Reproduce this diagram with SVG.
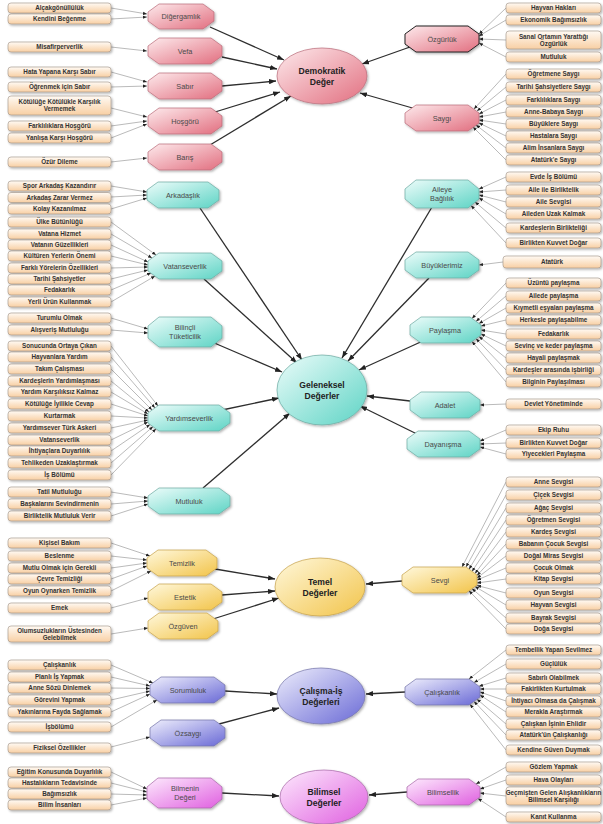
<svg xmlns="http://www.w3.org/2000/svg" width="603" height="824" viewBox="0 0 603 824">
<defs>
<linearGradient id="gBox" x1="0" y1="0" x2="0" y2="1"><stop offset="0" stop-color="#fffaf4"/><stop offset="1" stop-color="#f8cfa3"/></linearGradient>
<linearGradient id="gPink" x1="0" y1="0" x2="1" y2="1"><stop offset="0" stop-color="#fdeaec"/><stop offset="1" stop-color="#e26f80"/></linearGradient>
<linearGradient id="gTeal" x1="0" y1="0" x2="1" y2="1"><stop offset="0" stop-color="#ecfcfa"/><stop offset="1" stop-color="#5ed4c5"/></linearGradient>
<linearGradient id="gYel" x1="0" y1="0" x2="1" y2="1"><stop offset="0" stop-color="#fff8dc"/><stop offset="1" stop-color="#f2c44a"/></linearGradient>
<linearGradient id="gBlue" x1="0" y1="0" x2="1" y2="1"><stop offset="0" stop-color="#eeeefc"/><stop offset="1" stop-color="#6a6ad6"/></linearGradient>
<linearGradient id="gMag" x1="0" y1="0" x2="1" y2="1"><stop offset="0" stop-color="#fdeafd"/><stop offset="1" stop-color="#e060e0"/></linearGradient>
<filter id="sh" x="-10%" y="-10%" width="130%" height="145%"><feDropShadow dx="1.2" dy="1.4" stdDeviation="0.8" flood-color="#000" flood-opacity="0.3"/></filter>
<marker id="as" viewBox="0 0 6 6" refX="6" refY="3" markerWidth="4" markerHeight="4" markerUnits="userSpaceOnUse" orient="auto"><path d="M0,0.6 L6,3 L0,5.4z" fill="#222"/></marker>
<marker id="am" viewBox="0 0 8 6" refX="8" refY="3" markerWidth="7" markerHeight="5.5" markerUnits="userSpaceOnUse" orient="auto"><path d="M0,0 L8,3 L0,6z" fill="#222"/></marker>
<style>
.box rect{fill:url(#gBox);stroke:#9d9084;stroke-width:0.6;filter:url(#sh)}
.box text{font-family:"Liberation Sans",Arial,sans-serif;font-weight:bold;font-size:6.3px;fill:#333;text-anchor:middle}
.oct polygon,.ell ellipse{stroke-width:0.7;filter:url(#sh)}
.oct text{font-family:"Liberation Sans",Arial,sans-serif;font-size:7.3px;fill:#4a4a4a;text-anchor:middle}
.ell text{font-family:"Liberation Sans",Arial,sans-serif;font-weight:bold;font-size:8.6px;fill:#222;text-anchor:middle}
.pink polygon,.pink ellipse{fill:url(#gPink);stroke:#b96a78}
.teal polygon,.teal ellipse{fill:url(#gTeal);stroke:#6aa9a0}
.yel polygon,.yel ellipse{fill:url(#gYel);stroke:#c5a048}
.blue polygon,.blue ellipse{fill:url(#gBlue);stroke:#7272a8}
.mag polygon,.mag ellipse{fill:url(#gMag);stroke:#a665a6}
#o-ozgurluk polygon{stroke:#222;stroke-width:1}
.t{stroke:#8c8c8c;stroke-width:0.6;fill:none;marker-end:url(#as)}
.m{stroke:#2e2e2e;stroke-width:1.3;fill:none;marker-end:url(#am)}
</style>
</defs>
<rect width="603" height="824" fill="#fff"/>

<g id="connectors">
<path class="m" d="M210,27 L284,60"/>
<path class="m" d="M222,57 L277,69"/>
<path class="m" d="M222,86 L276,81"/>
<path class="m" d="M215,112 L280,92"/>
<path class="m" d="M205,148 L291,96"/>
<path class="m" d="M410,47 L362,64"/>
<path class="m" d="M416,109 L360,93"/>
<path class="m" d="M200,208 L302,360"/>
<path class="m" d="M204,279 L297,363"/>
<path class="m" d="M212,342 L282,372"/>
<path class="m" d="M222,410 L279,398"/>
<path class="m" d="M203,488 L290,413"/>
<path class="m" d="M432,207 L342,358"/>
<path class="m" d="M429,278 L348,361"/>
<path class="m" d="M425,340 L359,370"/>
<path class="m" d="M410,401 L367,396"/>
<path class="m" d="M421,436 L360,406"/>
<path class="m" d="M215,569 L275,579"/>
<path class="m" d="M222,595 L275,591"/>
<path class="m" d="M213,619 L279,598"/>
<path class="m" d="M402,581 L366,584"/>
<path class="m" d="M225,691 L277,694"/>
<path class="m" d="M219,724 L279,708"/>
<path class="m" d="M405,692 L366,694"/>
<path class="m" d="M222,793 L279,796"/>
<path class="m" d="M407,792 L369,795"/>

<path class="t" d="M111,8 L147,14"/>
<path class="t" d="M111,19 L147,17"/>
<path class="t" d="M111,47 L147,51"/>
<path class="t" d="M111,72 L147,82"/>
<path class="t" d="M111,87 L147,86"/>
<path class="t" d="M111,108 L147,117"/>
<path class="t" d="M111,126 L147,121"/>
<path class="t" d="M111,138 L147,124"/>
<path class="t" d="M111,162 L147,158"/>
<path class="t" d="M506,8 L479,34"/>
<path class="t" d="M506,20 L479,36"/>
<path class="t" d="M506,40 L479,39"/>
<path class="t" d="M506,57 L479,43"/>
<path class="t" d="M506,74 L474,109"/>
<path class="t" d="M506,87 L477,111"/>
<path class="t" d="M506,100 L479,114"/>
<path class="t" d="M506,112 L479,117"/>
<path class="t" d="M506,124 L479,120"/>
<path class="t" d="M506,136 L479,123"/>
<path class="t" d="M506,148 L476,125"/>
<path class="t" d="M506,160 L473,127"/>

<path class="t" d="M111,186 L147,192"/>
<path class="t" d="M111,197 L147,195"/>
<path class="t" d="M111,209 L147,198"/>
<path class="t" d="M111,222 L156,255"/>
<path class="t" d="M111,234 L152,258"/>
<path class="t" d="M111,245 L148,262"/>
<path class="t" d="M111,256 L148,265"/>
<path class="t" d="M111,268 L148,267"/>
<path class="t" d="M111,279 L148,270"/>
<path class="t" d="M111,290 L151,273"/>
<path class="t" d="M111,302 L155,276"/>
<path class="t" d="M111,318 L148,329"/>
<path class="t" d="M111,330 L148,333"/>
<path class="t" d="M111,346 L158,406"/>
<path class="t" d="M111,357 L155,408"/>
<path class="t" d="M111,369 L152,410"/>
<path class="t" d="M111,381 L149,412"/>
<path class="t" d="M111,392 L148,414"/>
<path class="t" d="M111,404 L148,416"/>
<path class="t" d="M111,416 L148,418"/>
<path class="t" d="M111,428 L148,420"/>
<path class="t" d="M111,440 L148,422"/>
<path class="t" d="M111,451 L150,424.5"/>
<path class="t" d="M111,463 L153,426.6"/>
<path class="t" d="M111,475 L156,428.8"/>
<path class="t" d="M111,492 L148,498"/>
<path class="t" d="M111,504 L148,501"/>
<path class="t" d="M111,516 L148,504"/>

<path class="t" d="M506,177 L479,189"/>
<path class="t" d="M506,190 L479,192"/>
<path class="t" d="M506,202 L479,195"/>
<path class="t" d="M506,214 L479,198"/>
<path class="t" d="M506,228 L475,202"/>
<path class="t" d="M506,243 L471,205.5"/>
<path class="t" d="M503,262 L479,265"/>
<path class="t" d="M506,283 L472,318.5"/>
<path class="t" d="M506,296 L476,321.4"/>
<path class="t" d="M506,308 L479,323.5"/>
<path class="t" d="M506,320 L481,326"/>
<path class="t" d="M506,334 L481,330"/>
<path class="t" d="M506,346 L481,334"/>
<path class="t" d="M506,358 L479,336.5"/>
<path class="t" d="M506,370 L476,338.6"/>
<path class="t" d="M506,382 L472,341.5"/>
<path class="t" d="M506,404 L480,405"/>
<path class="t" d="M506,430 L480,441"/>
<path class="t" d="M506,443 L480,444"/>
<path class="t" d="M506,454 L480,447"/>

<path class="t" d="M111,543 L150,556"/>
<path class="t" d="M111,556 L147,560"/>
<path class="t" d="M111,568 L147,563"/>
<path class="t" d="M111,579 L147,566"/>
<path class="t" d="M111,591 L151,571"/>
<path class="t" d="M111,608 L148,598"/>
<path class="t" d="M111,634 L148,628"/>
<path class="t" d="M506,482 L462,567"/>
<path class="t" d="M506,495 L466,567"/>
<path class="t" d="M506,508 L469,569.2"/>
<path class="t" d="M506,520 L472,571.4"/>
<path class="t" d="M506,532 L475,573.5"/>
<path class="t" d="M506,544 L477,575.5"/>
<path class="t" d="M506,556 L477,578"/>
<path class="t" d="M506,568 L477,580"/>
<path class="t" d="M506,579 L477,583"/>
<path class="t" d="M506,593 L477,585.5"/>
<path class="t" d="M506,605 L475,586.5"/>
<path class="t" d="M506,618 L472,588.6"/>
<path class="t" d="M506,629 L469,590.8"/>

<path class="t" d="M111,665 L153,683"/>
<path class="t" d="M111,677 L150,686"/>
<path class="t" d="M111,688 L150,688.5"/>
<path class="t" d="M111,700 L150,691"/>
<path class="t" d="M111,712 L150,694"/>
<path class="t" d="M111,727 L157,700"/>
<path class="t" d="M111,747 L150,737"/>
<path class="t" d="M111,772 L147,789"/>
<path class="t" d="M111,783 L147,792"/>
<path class="t" d="M111,794 L147,795"/>
<path class="t" d="M111,805 L147,798"/>
<path class="t" d="M506,650 L469,679"/>
<path class="t" d="M506,664 L474,682.6"/>
<path class="t" d="M506,678 L479,686.3"/>
<path class="t" d="M506,689 L480,689"/>
<path class="t" d="M506,701 L480,692"/>
<path class="t" d="M506,712 L480,695"/>
<path class="t" d="M506,724 L477,699.2"/>
<path class="t" d="M506,735 L474,701.4"/>
<path class="t" d="M506,750 L470,704.3"/>
<path class="t" d="M506,767 L476,784"/>
<path class="t" d="M506,780 L480,789"/>
<path class="t" d="M506,796 L480,793"/>
<path class="t" d="M506,817 L478,798.5"/>
</g>

<!-- Main ellipses -->
<g id="e-demokratik" class="ell pink"><ellipse cx="322" cy="76" rx="45" ry="28"/><text x="322" y="74">Demokratik</text><text x="322" y="85">Değer</text></g>
<g id="e-geleneksel" class="ell teal"><ellipse cx="322" cy="390" rx="45" ry="35"/><text x="322" y="388">Geleneksel</text><text x="322" y="399">Değerler</text></g>
<g id="e-temel" class="ell yel"><ellipse cx="320" cy="587" rx="45" ry="29"/><text x="320" y="585">Temel</text><text x="320" y="596">Değerler</text></g>
<g id="e-calisma" class="ell blue"><ellipse cx="321" cy="696" rx="44" ry="28"/><text x="321" y="694">Çalışma-İş</text><text x="321" y="705">Değerleri</text></g>
<g id="e-bilimsel" class="ell mag"><ellipse cx="324" cy="797" rx="44" ry="27"/><text x="324" y="795">Bilimsel</text><text x="324" y="806">Değerler</text></g>

<!-- Octagons -->
<g id="o-digergamlik" class="oct pink"><polygon points="159,4 203,4 214,12 214,21 203,29 159,29 148,21 148,12"/><text x="181" y="19">Diğergamlık</text></g>
<g id="o-vefa" class="oct pink"><polygon points="159,38 211,38 222,46 222,56 211,64 159,64 148,56 148,46"/><text x="185" y="53.6">Vefa</text></g>
<g id="o-sabir" class="oct pink"><polygon points="159,73 211,73 222,81 222,91 211,99 159,99 148,91 148,81"/><text x="185" y="88.6">Sabır</text></g>
<g id="o-hosgoru" class="oct pink"><polygon points="159,108 211,108 222,116 222,126 211,134 159,134 148,126 148,116"/><text x="185" y="123.6">Hoşgörü</text></g>
<g id="o-baris" class="oct pink"><polygon points="159,144 211,144 222,152 222,162 211,170 159,170 148,162 148,152"/><text x="185" y="159.6">Barış</text></g>
<g id="o-ozgurluk" class="oct pink"><polygon points="416,26 468,26 479,34 479,44 468,52 416,52 405,44 405,34"/><text x="442" y="41.6">Özgürlük</text></g>
<g id="o-saygi" class="oct pink"><polygon points="416,105 468,105 479,113 479,123 468,131 416,131 405,123 405,113"/><text x="442" y="120.6">Saygı</text></g>

<g id="o-arkadaslik" class="oct teal"><polygon points="158,182 208,182 219,190 219,200 208,208 158,208 147,200 147,190"/><text x="183" y="197.6">Arkadaşlık</text></g>
<g id="o-vatanseverlik" class="oct teal"><polygon points="159,253 211,253 222,261 222,271 211,279 159,279 148,271 148,261"/><text x="185" y="268.6">Vatanseverlik</text></g>
<g id="o-bilincli" class="oct teal"><polygon points="159,317 211,317 222,326 222,338 211,347 159,347 148,338 148,326"/><text x="185" y="330">Bilinçli</text><text x="185" y="339">Tüketicilik</text></g>
<g id="o-yardimseverlik" class="oct teal"><polygon points="159,405 219,405 230,413 230,423 219,431 159,431 148,423 148,413"/><text x="189" y="420.6">Yardımseverlik</text></g>
<g id="o-mutluluk" class="oct teal"><polygon points="159,488 219,488 230,496 230,506 219,514 159,514 148,506 148,496"/><text x="189" y="503.6">Mutluluk</text></g>
<g id="o-aileye" class="oct teal"><polygon points="416,180 468,180 479,189 479,199 468,208 416,208 405,199 405,189"/><text x="442" y="192">Aileye</text><text x="442" y="201">Bağlılık</text></g>
<g id="o-buyuklerimiz" class="oct teal"><polygon points="416,252 468,252 479,260 479,270 468,278 416,278 405,270 405,260"/><text x="442" y="267.6">Büyüklerimiz</text></g>
<g id="o-paylasma" class="oct teal"><polygon points="421,317 470,317 481,325 481,335 470,343 421,343 410,335 410,325"/><text x="445" y="332.6">Paylaşma</text></g>
<g id="o-adalet" class="oct teal"><polygon points="421,392 469,392 480,400 480,410 469,418 421,418 410,410 410,400"/><text x="445" y="407.6">Adalet</text></g>
<g id="o-dayanisma" class="oct teal"><polygon points="418,431 469,431 480,439 480,449 469,457 418,457 407,449 407,439"/><text x="443" y="446.6">Dayanışma</text></g>

<g id="o-temizlik" class="oct yel"><polygon points="158,550 206,550 217,558 217,568 206,576 158,576 147,568 147,558"/><text x="182" y="565.6">Temizlik</text></g>
<g id="o-estetik" class="oct yel"><polygon points="159,584 211,584 222,592 222,602 211,610 159,610 148,602 148,592"/><text x="185" y="599.6">Estetik</text></g>
<g id="o-ozguven" class="oct yel"><polygon points="159,613 207,613 218,621 218,631 207,639 159,639 148,631 148,621"/><text x="183" y="628.6">Özgüven</text></g>
<g id="o-sevgi" class="oct yel"><polygon points="413,567 466,567 477,575 477,585 466,593 413,593 402,585 402,575"/><text x="440" y="582.6">Sevgi</text></g>

<g id="o-sorumluluk" class="oct blue"><polygon points="161,677 214,677 225,685 225,695 214,703 161,703 150,695 150,685"/><text x="188" y="692.6">Sorumluluk</text></g>
<g id="o-ozsaygi" class="oct blue"><polygon points="161,720 214,720 225,728 225,738 214,746 161,746 150,738 150,728"/><text x="188" y="735.6">Özsaygı</text></g>
<g id="o-caliskanlik" class="oct blue"><polygon points="416,679 469,679 480,687 480,697 469,705 416,705 405,697 405,687"/><text x="442" y="694.6">Çalışkanlık</text></g>

<g id="o-bilmenin" class="oct mag"><polygon points="158,778 211,778 222,787 222,799 211,808 158,808 147,799 147,787"/><text x="185" y="791">Bilmenin</text><text x="185" y="800">Değeri</text></g>
<g id="o-bilimsellik" class="oct mag"><polygon points="418,779 469,779 480,787 480,797 469,805 418,805 407,797 407,787"/><text x="443" y="794.6">Bilimsellik</text></g>

<!-- Left boxes -->
<g id="l01" class="box"><rect x="8" y="3" width="103" height="10" rx="3"/><text x="59.5" y="10.3">Alçakgönüllülük</text></g>
<g id="l02" class="box"><rect x="8" y="14" width="103" height="10" rx="3"/><text x="59.5" y="21.3">Kendini Beğenme</text></g>
<g id="l03" class="box"><rect x="8" y="42" width="103" height="10" rx="3"/><text x="59.5" y="49.3">Misafirperverlik</text></g>
<g id="l04" class="box"><rect x="8" y="67" width="103" height="10" rx="3"/><text x="59.5" y="74.3">Hata Yapana Karşı Sabır</text></g>
<g id="l05" class="box"><rect x="8" y="82" width="103" height="10" rx="3"/><text x="59.5" y="89.3">Öğrenmek için Sabır</text></g>
<g id="l06" class="box"><rect x="8" y="96" width="103" height="19" rx="3"/><text x="59.5" y="103.5">Kötülüğe Kötülükle Karşılık</text><text x="59.5" y="111">Vermemek</text></g>
<g id="l07" class="box"><rect x="8" y="121" width="103" height="10" rx="3"/><text x="59.5" y="128.3">Farklılıklara Hoşgörü</text></g>
<g id="l08" class="box"><rect x="8" y="133" width="103" height="10" rx="3"/><text x="59.5" y="140.3">Yanlışa Karşı Hoşgörü</text></g>
<g id="l09" class="box"><rect x="8" y="157" width="103" height="10" rx="3"/><text x="59.5" y="164.3">Özür Dileme</text></g>

<g id="l10" class="box"><rect x="8" y="181" width="103" height="10" rx="3"/><text x="59.5" y="188.3">Spor Arkadaş Kazandırır</text></g>
<g id="l11" class="box"><rect x="8" y="192.5" width="103" height="10" rx="3"/><text x="59.5" y="199.8">Arkadaş Zarar Vermez</text></g>
<g id="l12" class="box"><rect x="8" y="204" width="103" height="10" rx="3"/><text x="59.5" y="211.3">Kolay Kazanılmaz</text></g>
<g id="l13" class="box"><rect x="8" y="217" width="103" height="10" rx="3"/><text x="59.5" y="224.3">Ülke Bütünlüğü</text></g>
<g id="l14" class="box"><rect x="8" y="229" width="103" height="10" rx="3"/><text x="59.5" y="236.3">Vatana Hizmet</text></g>
<g id="l15" class="box"><rect x="8" y="240" width="103" height="10" rx="3"/><text x="59.5" y="247.3">Vatanın Güzellikleri</text></g>
<g id="l16" class="box"><rect x="8" y="251" width="103" height="10" rx="3"/><text x="59.5" y="258.3">Kültüren Yerlerin Önemi</text></g>
<g id="l17" class="box"><rect x="8" y="263" width="103" height="10" rx="3"/><text x="59.5" y="270.3">Farklı Yörelerin Özellikleri</text></g>
<g id="l18" class="box"><rect x="8" y="274" width="103" height="10" rx="3"/><text x="59.5" y="281.3">Tarihi Şahsiyetler</text></g>
<g id="l19" class="box"><rect x="8" y="285" width="103" height="10" rx="3"/><text x="59.5" y="292.3">Fedakarlık</text></g>
<g id="l20" class="box"><rect x="8" y="297" width="103" height="10" rx="3"/><text x="59.5" y="304.3">Yerli Ürün Kullanmak</text></g>
<g id="l21" class="box"><rect x="8" y="313" width="103" height="10" rx="3"/><text x="59.5" y="320.3">Turumlu Olmak</text></g>
<g id="l22" class="box"><rect x="8" y="325" width="103" height="10" rx="3"/><text x="59.5" y="332.3">Alışveriş Mutluluğu</text></g>
<g id="l23" class="box"><rect x="8" y="341" width="103" height="10" rx="3"/><text x="59.5" y="348.3">Sonucunda Ortaya Çıkan</text></g>
<g id="l24" class="box"><rect x="8" y="352" width="103" height="10" rx="3"/><text x="59.5" y="359.3">Hayvanlara Yardım</text></g>
<g id="l25" class="box"><rect x="8" y="364" width="103" height="10" rx="3"/><text x="59.5" y="371.3">Takım Çalışması</text></g>
<g id="l26" class="box"><rect x="8" y="376" width="103" height="10" rx="3"/><text x="59.5" y="383.3">Kardeşlerin Yardımlaşması</text></g>
<g id="l27" class="box"><rect x="8" y="387" width="103" height="10" rx="3"/><text x="59.5" y="394.3">Yardım Karşılıksız Kalmaz</text></g>
<g id="l28" class="box"><rect x="8" y="399" width="103" height="10" rx="3"/><text x="59.5" y="406.3">Kötülüğe İyilikle Cevap</text></g>
<g id="l29" class="box"><rect x="8" y="411" width="103" height="10" rx="3"/><text x="59.5" y="418.3">Kurtarmak</text></g>
<g id="l30" class="box"><rect x="8" y="423" width="103" height="10" rx="3"/><text x="59.5" y="430.3">Yardımsever Türk Askeri</text></g>
<g id="l31" class="box"><rect x="8" y="435" width="103" height="10" rx="3"/><text x="59.5" y="442.3">Vatanseverlik</text></g>
<g id="l32" class="box"><rect x="8" y="446" width="103" height="10" rx="3"/><text x="59.5" y="453.3">İhtiyaçlara Duyarlılık</text></g>
<g id="l33" class="box"><rect x="8" y="458" width="103" height="10" rx="3"/><text x="59.5" y="465.3">Tehlikeden Uzaklaştırmak</text></g>
<g id="l34" class="box"><rect x="8" y="470" width="103" height="10" rx="3"/><text x="59.5" y="477.3">İş Bölümü</text></g>
<g id="l35" class="box"><rect x="8" y="487" width="103" height="10" rx="3"/><text x="59.5" y="494.3">Tatil Mutluluğu</text></g>
<g id="l36" class="box"><rect x="8" y="499" width="103" height="10" rx="3"/><text x="59.5" y="506.3">Başkalarını Sevindirmenin</text></g>
<g id="l37" class="box"><rect x="8" y="511" width="103" height="10" rx="3"/><text x="59.5" y="518.3">Birliktelik Mutluluk Verir</text></g>

<g id="l38" class="box"><rect x="8" y="538" width="103" height="10" rx="3"/><text x="59.5" y="545.3">Kişisel Bakım</text></g>
<g id="l39" class="box"><rect x="8" y="551" width="103" height="10" rx="3"/><text x="59.5" y="558.3">Beslenme</text></g>
<g id="l40" class="box"><rect x="8" y="563" width="103" height="10" rx="3"/><text x="59.5" y="570.3">Mutlu Olmak için Gerekli</text></g>
<g id="l41" class="box"><rect x="8" y="574" width="103" height="10" rx="3"/><text x="59.5" y="581.3">Çevre Temizliği</text></g>
<g id="l42" class="box"><rect x="8" y="586" width="103" height="10" rx="3"/><text x="59.5" y="593.3">Oyun Oynarken Temizlik</text></g>
<g id="l43" class="box"><rect x="8" y="603" width="103" height="10" rx="3"/><text x="59.5" y="610.3">Emek</text></g>
<g id="l44" class="box"><rect x="8" y="626" width="103" height="16" rx="3"/><text x="59.5" y="632.5">Olumsuzlukların Üstesinden</text><text x="59.5" y="639.5">Gelebilmek</text></g>

<g id="l45" class="box"><rect x="8" y="660" width="103" height="10" rx="3"/><text x="59.5" y="667.3">Çalışkanlık</text></g>
<g id="l46" class="box"><rect x="8" y="672" width="103" height="10" rx="3"/><text x="59.5" y="679.3">Planlı İş Yapmak</text></g>
<g id="l47" class="box"><rect x="8" y="683" width="103" height="10" rx="3"/><text x="59.5" y="690.3">Anne Sözü Dinlemek</text></g>
<g id="l48" class="box"><rect x="8" y="695" width="103" height="10" rx="3"/><text x="59.5" y="702.3">Görevini Yapmak</text></g>
<g id="l49" class="box"><rect x="8" y="707" width="103" height="10" rx="3"/><text x="59.5" y="714.3">Yakınlarına Fayda Sağlamak</text></g>
<g id="l50" class="box"><rect x="8" y="722" width="103" height="10" rx="3"/><text x="59.5" y="729.3">İşbölümü</text></g>
<g id="l51" class="box"><rect x="8" y="743" width="103" height="10" rx="3"/><text x="59.5" y="750.3">Fiziksel Özellikler</text></g>
<g id="l52" class="box"><rect x="8" y="767" width="103" height="10" rx="3"/><text x="59.5" y="774.3">Eğitim Konusunda Duyarlılık</text></g>
<g id="l53" class="box"><rect x="8" y="778" width="103" height="10" rx="3"/><text x="59.5" y="785.3">Hastalıkların Tedavisinde</text></g>
<g id="l54" class="box"><rect x="8" y="789" width="103" height="10" rx="3"/><text x="59.5" y="796.3">Bağımsızlık</text></g>
<g id="l55" class="box"><rect x="8" y="800" width="103" height="10" rx="3"/><text x="59.5" y="807.3">Bilim İnsanları</text></g>

<!-- Right boxes -->
<g id="r01" class="box"><rect x="506" y="3" width="95" height="10" rx="3"/><text x="553.5" y="10.3">Hayvan Hakları</text></g>
<g id="r02" class="box"><rect x="506" y="15" width="95" height="10" rx="3"/><text x="553.5" y="22.3">Ekonomik Bağımsızlık</text></g>
<g id="r03" class="box"><rect x="506" y="31" width="95" height="18" rx="3"/><text x="553.5" y="38.5">Sanal Ortamın Yarattığı</text><text x="553.5" y="46">Özgürlük</text></g>
<g id="r04" class="box"><rect x="506" y="52" width="95" height="10" rx="3"/><text x="553.5" y="59.3">Mutluluk</text></g>
<g id="r05" class="box"><rect x="506" y="69" width="95" height="10" rx="3"/><text x="553.5" y="76.3">Öğretmene Saygı</text></g>
<g id="r06" class="box"><rect x="506" y="82" width="95" height="10" rx="3"/><text x="553.5" y="89.3">Tarihi Şahsiyetlere Saygı</text></g>
<g id="r07" class="box"><rect x="506" y="95" width="95" height="10" rx="3"/><text x="553.5" y="102.3">Farklılıklara Saygı</text></g>
<g id="r08" class="box"><rect x="506" y="107" width="95" height="10" rx="3"/><text x="553.5" y="114.3">Anne-Babaya Saygı</text></g>
<g id="r09" class="box"><rect x="506" y="119" width="95" height="10" rx="3"/><text x="553.5" y="126.3">Büyüklere Saygı</text></g>
<g id="r10" class="box"><rect x="506" y="131" width="95" height="10" rx="3"/><text x="553.5" y="138.3">Hastalara Saygı</text></g>
<g id="r11" class="box"><rect x="506" y="143" width="95" height="10" rx="3"/><text x="553.5" y="150.3">Alim İnsanlara Saygı</text></g>
<g id="r12" class="box"><rect x="506" y="155" width="95" height="10" rx="3"/><text x="553.5" y="162.3">Atatürk'e Saygı</text></g>

<g id="r13" class="box"><rect x="506" y="172" width="95" height="10" rx="3"/><text x="553.5" y="179.3">Evde İş Bölümü</text></g>
<g id="r14" class="box"><rect x="506" y="185" width="95" height="10" rx="3"/><text x="553.5" y="192.3">Aile ile Birliktelik</text></g>
<g id="r15" class="box"><rect x="506" y="197" width="95" height="10" rx="3"/><text x="553.5" y="204.3">Aile Sevgisi</text></g>
<g id="r16" class="box"><rect x="506" y="209" width="95" height="10" rx="3"/><text x="553.5" y="216.3">Aileden Uzak Kalmak</text></g>
<g id="r17" class="box"><rect x="506" y="223" width="95" height="10" rx="3"/><text x="553.5" y="230.3">Kardeşlerin Birlikteliği</text></g>
<g id="r18" class="box"><rect x="506" y="238" width="95" height="10" rx="3"/><text x="553.5" y="245.3">Birlikten Kuvvet Doğar</text></g>
<g id="r19" class="box"><rect x="503" y="256" width="98" height="12" rx="3"/><text x="552" y="264.3">Atatürk</text></g>
<g id="r20" class="box"><rect x="506" y="278" width="95" height="10" rx="3"/><text x="553.5" y="285.3">Üzüntü paylaşma</text></g>
<g id="r21" class="box"><rect x="506" y="291" width="95" height="10" rx="3"/><text x="553.5" y="298.3">Ailede paylaşma</text></g>
<g id="r22" class="box"><rect x="506" y="303" width="95" height="10" rx="3"/><text x="553.5" y="310.3">Kıymetli eşyaları paylaşma</text></g>
<g id="r23" class="box"><rect x="506" y="315" width="95" height="10" rx="3"/><text x="553.5" y="322.3">Herkesle paylaşabilme</text></g>
<g id="r24" class="box"><rect x="506" y="329" width="95" height="10" rx="3"/><text x="553.5" y="336.3">Fedakarlık</text></g>
<g id="r25" class="box"><rect x="506" y="341" width="95" height="10" rx="3"/><text x="553.5" y="348.3">Sevinç ve keder paylaşma</text></g>
<g id="r26" class="box"><rect x="506" y="353" width="95" height="10" rx="3"/><text x="553.5" y="360.3">Hayali paylaşmak</text></g>
<g id="r27" class="box"><rect x="506" y="365" width="95" height="10" rx="3"/><text x="553.5" y="372.3">Kardeşler arasında işbirliği</text></g>
<g id="r28" class="box"><rect x="506" y="377" width="95" height="10" rx="3"/><text x="553.5" y="384.3">Bilginin Paylaşılması</text></g>
<g id="r29" class="box"><rect x="506" y="399" width="95" height="10" rx="3"/><text x="553.5" y="406.3">Devlet Yönetiminde</text></g>
<g id="r30" class="box"><rect x="506" y="425" width="95" height="10" rx="3"/><text x="553.5" y="432.3">Ekip Ruhu</text></g>
<g id="r31" class="box"><rect x="506" y="438" width="95" height="10" rx="3"/><text x="553.5" y="445.3">Birlikten Kuvvet Doğar</text></g>
<g id="r32" class="box"><rect x="506" y="449" width="95" height="10" rx="3"/><text x="553.5" y="456.3">Yiyecekleri Paylaşma</text></g>

<g id="r33" class="box"><rect x="506" y="477" width="95" height="10" rx="3"/><text x="553.5" y="484.3">Anne Sevgisi</text></g>
<g id="r34" class="box"><rect x="506" y="490" width="95" height="10" rx="3"/><text x="553.5" y="497.3">Çiçek Sevgisi</text></g>
<g id="r35" class="box"><rect x="506" y="503" width="95" height="10" rx="3"/><text x="553.5" y="510.3">Ağaç Sevgisi</text></g>
<g id="r36" class="box"><rect x="506" y="515" width="95" height="10" rx="3"/><text x="553.5" y="522.3">Öğretmen Sevgisi</text></g>
<g id="r37" class="box"><rect x="506" y="527" width="95" height="10" rx="3"/><text x="553.5" y="534.3">Kardeş Sevgisi</text></g>
<g id="r38" class="box"><rect x="506" y="539" width="95" height="10" rx="3"/><text x="553.5" y="546.3">Babanın Çocuk Sevgisi</text></g>
<g id="r39" class="box"><rect x="506" y="551" width="95" height="10" rx="3"/><text x="553.5" y="558.3">Doğal Miras Sevgisi</text></g>
<g id="r40" class="box"><rect x="506" y="563" width="95" height="10" rx="3"/><text x="553.5" y="570.3">Çocuk Olmak</text></g>
<g id="r41" class="box"><rect x="506" y="574" width="95" height="10" rx="3"/><text x="553.5" y="581.3">Kitap Sevgisi</text></g>
<g id="r42" class="box"><rect x="506" y="588" width="95" height="10" rx="3"/><text x="553.5" y="595.3">Oyun Sevgisi</text></g>
<g id="r43" class="box"><rect x="506" y="600" width="95" height="10" rx="3"/><text x="553.5" y="607.3">Hayvan Sevgisi</text></g>
<g id="r44" class="box"><rect x="506" y="613" width="95" height="10" rx="3"/><text x="553.5" y="620.3">Bayrak Sevgisi</text></g>
<g id="r45" class="box"><rect x="506" y="624" width="95" height="10" rx="3"/><text x="553.5" y="631.3">Doğa Sevgisi</text></g>

<g id="r46" class="box"><rect x="506" y="645" width="95" height="10" rx="3"/><text x="553.5" y="652.3">Tembellik Yapan Sevilmez</text></g>
<g id="r47" class="box"><rect x="506" y="659" width="95" height="10" rx="3"/><text x="553.5" y="666.3">Güçlülük</text></g>
<g id="r48" class="box"><rect x="506" y="673" width="95" height="10" rx="3"/><text x="553.5" y="680.3">Sabırlı Olabilmek</text></g>
<g id="r49" class="box"><rect x="506" y="684" width="95" height="10" rx="3"/><text x="553.5" y="691.3">Fakirlikten Kurtulmak</text></g>
<g id="r50" class="box"><rect x="506" y="696" width="95" height="10" rx="3"/><text x="553.5" y="703.3">İhtiyacı Olmasa da Çalışmak</text></g>
<g id="r51" class="box"><rect x="506" y="707" width="95" height="10" rx="3"/><text x="553.5" y="714.3">Merakla Araştırmak</text></g>
<g id="r52" class="box"><rect x="506" y="719" width="95" height="10" rx="3"/><text x="553.5" y="726.3">Çalışkan İşinin Ehlidir</text></g>
<g id="r53" class="box"><rect x="506" y="730" width="95" height="10" rx="3"/><text x="553.5" y="737.3">Atatürk'ün Çalışkanlığı</text></g>
<g id="r54" class="box"><rect x="506" y="745" width="95" height="10" rx="3"/><text x="553.5" y="752.3">Kendine Güven Duymak</text></g>
<g id="r55" class="box"><rect x="506" y="762" width="95" height="10" rx="3"/><text x="553.5" y="769.3">Gözlem Yapmak</text></g>
<g id="r56" class="box"><rect x="506" y="775" width="95" height="10" rx="3"/><text x="553.5" y="782.3">Hava Olayları</text></g>
<g id="r57" class="box"><rect x="506" y="787" width="95" height="18" rx="3"/><text x="553.5" y="794.5">Geçmişten Gelen Alışkanlıkların</text><text x="553.5" y="802">Bilimsel Karşılığı</text></g>
<g id="r58" class="box"><rect x="506" y="812" width="95" height="10" rx="3"/><text x="553.5" y="819.3">Kanıt Kullanma</text></g>
</svg>
